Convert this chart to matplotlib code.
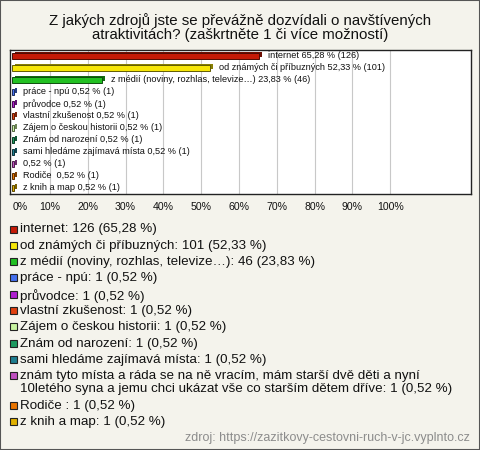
import numpy as np
import matplotlib
matplotlib.use('Agg')
import matplotlib.pyplot as plt
from matplotlib.patches import Rectangle
from matplotlib import colors as mcolors

plt.rcParams['font.family'] = ['Liberation Sans', 'DejaVu Sans']

title = 'Z jakých zdrojů jste se převážně dozvídali o navštívených\natraktivitách? (zaškrtněte 1 či více možností)'

# chart labels (long answer is left blank inside the chart)
bar_labels = ['internet', 'od známých či příbuzných', 'z médií (noviny, rozhlas, televize…)',
              'práce - npú', 'průvodce', 'vlastní zkušenost', 'Zájem o českou historii',
              'Znám od narození', 'sami hledáme zajímavá místa', '', 'Rodiče ', 'z knih a map']
legend_labels = ['internet', 'od známých či příbuzných', 'z médií (noviny, rozhlas, televize…)',
                 'práce - npú', 'průvodce', 'vlastní zkušenost', 'Zájem o českou historii',
                 'Znám od narození', 'sami hledáme zajímavá místa',
                 'znám tyto místa a ráda se na ně vracím, mám starší dvě děti a nyní\n10letého syna a jemu chci ukázat vše co starším dětem dříve',
                 'Rodiče ', 'z knih a map']
counts = [126, 101, 46, 1, 1, 1, 1, 1, 1, 1, 1, 1]
percents = [65.28, 52.33, 23.83, 0.52, 0.52, 0.52, 0.52, 0.52, 0.52, 0.52, 0.52, 0.52]
bar_colors = ['#c41a06', '#f6e608', '#22c022', '#4470ee', '#b01ed0', '#e0400e',
              '#c8f4a0', '#1e9a60', '#1e7e90', '#c050c0', '#e87400', '#e0b000']
ticks = [0, 10, 20, 30, 40, 50, 60, 70, 80, 90, 100]

bg = '#f4f3ec'
W, H = 480, 450


def fmt(v):
    return ('%.2f' % v).replace('.', ',')


def darker(c, f=0.55):
    r, g, b = mcolors.to_rgb(c)
    return (r * f, g * f, b * f)


fig = plt.figure(figsize=(4.8, 4.5), dpi=100, facecolor=bg)
fig.patches.append(Rectangle((0, 0), 1, 1, transform=fig.transFigure, fill=False,
                             edgecolor='#555555', lw=1.5))

fig.text(0.5, 1 - 13.5 / H, title, ha='center', va='top', fontsize=10.8, linespacing=0.98,
         color='#111111')

ax = fig.add_axes([10 / W, 1 - 194 / H, 461 / W, 144 / H])
ax.set_facecolor('white')
ax.set_xlim(-0.58, 121.4)
ax.set_ylim(11.5, -0.5)
for x in ticks[1:]:
    ax.axvline(x, color='#c8c8c8', lw=0.8, zorder=0)

y = np.arange(len(percents))
# 3D look: darker back face shifted up-right, then the front face
ax.barh(y - 0.1, percents, left=0.8, height=0.42,
        color=[darker(c) for c in bar_colors], zorder=2)
ax.barh(y, percents, height=0.42, color=bar_colors,
        edgecolor=[darker(c, 0.4) for c in bar_colors], lw=0.7, zorder=3)
for i in range(len(percents)):
    txt = (bar_labels[i] + ' ' if bar_labels[i] else '') + fmt(percents[i]) + ' % (' + str(counts[i]) + ')'
    ax.text(percents[i] + 2.4, y[i], txt, va='center', ha='left', fontsize=6.6, color='#111111', zorder=4)

ax.set_yticks([])
ax.set_xticks(ticks)
ax.set_xticklabels([str(t) + '%' for t in ticks], fontsize=7.6, color='#111111')
ax.tick_params(axis='x', length=0, pad=6)
ax.get_xticklabels()[0].set_horizontalalignment('left')
for s in ax.spines.values():
    s.set_color('#222222')
    s.set_linewidth(1)

# legend
yc = 229
for i, lab in enumerate(legend_labels):
    fig.patches.append(Rectangle((10 / W, 1 - (yc + 3.5) / H), 7 / W, 7 / H, transform=fig.transFigure,
                                 facecolor=bar_colors[i], edgecolor='#222222', lw=0.8))
    fig.text(20 / W, 1 - (yc - 5.5) / H, lab + ': ' + str(counts[i]) + ' (' + fmt(percents[i]) + ' %)',
             ha='left', va='top', fontsize=9.6, linespacing=1.05, color='#111111')
    yc += 16.3 + 13.5 * lab.count('\n')

fig.text(470 / W, 1 - 438 / H, 'zdroj: https://zazitkovy-cestovni-ruch-v-jc.vyplnto.cz',
         ha='right', va='center', fontsize=9, color='#8c8c8c')

fig.savefig('out.png', dpi=100, facecolor=bg)
